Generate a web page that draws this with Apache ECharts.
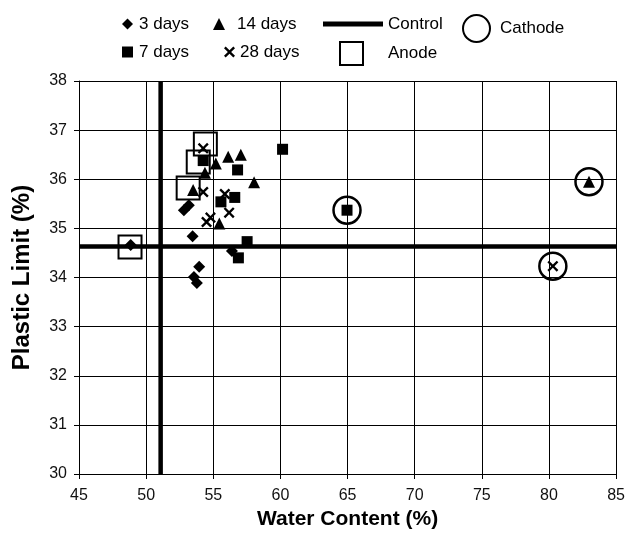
<!DOCTYPE html>
<html>
<head>
<meta charset="utf-8">
<script src="https://cdn.jsdelivr.net/npm/echarts@6/dist/echarts.min.js"></script>
<style>
  html, body { margin: 0; padding: 0; background: #fff; }
  #chart { width: 628px; height: 539px; }
</style>
</head>
<body>
<div id="chart"></div>
<script>
// Water content (%) vs plastic limit (%) for each curing period
const days3  = [[48.85, 34.66], [52.81, 35.37], [53.18, 35.47], [53.46, 34.84], [56.39, 34.54], [53.95, 34.22], [53.56, 34.01], [53.78, 33.89]];
const days7  = [[54.25, 36.38], [56.81, 36.19], [60.16, 36.61], [56.60, 35.63], [55.57, 35.54], [57.52, 34.73], [56.87, 34.40], [64.96, 35.37]];
const days14 = [[55.19, 36.32], [56.11, 36.46], [57.05, 36.50], [54.38, 36.13], [58.04, 35.94], [53.50, 35.78], [55.45, 35.10], [82.98, 35.95]];
const days28 = [[54.25, 36.63], [54.25, 35.74], [55.86, 35.70], [56.18, 35.32], [54.79, 35.22], [54.50, 35.13], [80.29, 34.23]];
// Samples taken next to the electrodes
const anode   = [[54.41, 36.72], [53.88, 36.35], [53.13, 35.82], [48.80, 34.62]];
const cathode = [[64.96, 35.37], [82.98, 35.95], [80.29, 34.23]];
// Untreated control values
const controlWater = 51.08;
const controlPL = 34.63;
// Axis ranges and tick steps
const xRange = [45, 85, 5];
const yRange = [30, 38, 1];

const FONT = "'Liberation Sans', Arial, sans-serif";
const crossPath = 'path://M0,1.5L1.5,0L5,3.5L8.5,0L10,1.5L6.5,5L10,8.5L8.5,10L5,6.5L1.5,10L0,8.5L3.5,5Z';

function legendItem(name, left, top, w, h, pad, extra) {
  return Object.assign({
    data: [name], left: left, top: top, padding: 0,
    itemWidth: w, itemHeight: h, selectedMode: false,
    textStyle: { fontFamily: FONT, fontSize: 17, color: '#000', lineHeight: 20, padding: [0, 0, 0, pad] }
  }, extra || {});
}

const solid = { color: '#000', opacity: 1 };
const hollow = { color: 'rgba(0,0,0,0)', borderColor: '#000', opacity: 1 };

const chart = echarts.init(document.getElementById('chart'), null, { renderer: 'canvas' });
chart.setOption({
  animation: false,
  backgroundColor: '#fff',
  grid: { left: 79, right: 11, top: 81, bottom: 65, containLabel: false },
  legend: [
    legendItem('3 days', 122, 14, 11, 11, 1),
    legendItem('14 days', 213, 14, 12, 12, 7),
    legendItem('Control', 323, 14, 60, 5, 0, { icon: 'rect' }),
    legendItem('Cathode', 462, 14, 27, 27, 5),
    legendItem('7 days', 122, 42, 11, 11, 1),
    legendItem('28 days', 224, 42, 11, 11, 0),
    legendItem('Anode', 339, 41, 23, 23, 20)
  ],
  xAxis: {
    type: 'value', min: xRange[0], max: xRange[1], interval: xRange[2],
    name: 'Water Content (%)', nameLocation: 'middle', nameGap: 30,
    nameTextStyle: { fontFamily: FONT, fontSize: 21, fontWeight: 'bold', color: '#000' },
    axisLine: { show: true, lineStyle: { color: '#000', width: 1 } },
    axisTick: { show: true, inside: false, length: 5, lineStyle: { color: '#000' } },
    axisLabel: { fontFamily: FONT, fontSize: 16, color: '#111', margin: 14 },
    splitLine: { show: true, lineStyle: { color: '#000', width: 1 } }
  },
  yAxis: {
    type: 'value', min: yRange[0], max: yRange[1], interval: yRange[2],
    name: 'Plastic Limit (%)', nameLocation: 'middle', nameGap: 45,
    nameTextStyle: { fontFamily: FONT, fontSize: 24, fontWeight: 'bold', color: '#000' },
    axisLine: { show: true, lineStyle: { color: '#000', width: 1 } },
    axisTick: { show: true, inside: false, length: 5, lineStyle: { color: '#000' } },
    axisLabel: { fontFamily: FONT, fontSize: 16, color: '#111', margin: 12 },
    splitLine: { show: true, lineStyle: { color: '#000', width: 1 } }
  },
  series: [
    {
      name: 'Control', type: 'line', symbol: 'none', z: 3,
      itemStyle: solid, lineStyle: { color: '#000', width: 4.5 },
      data: [[xRange[0], controlPL], [xRange[1], controlPL]]
    },
    {
      name: 'Control', type: 'line', symbol: 'none', z: 3,
      itemStyle: solid, lineStyle: { color: '#000', width: 4.5 },
      data: [[controlWater, yRange[0]], [controlWater, yRange[1]]]
    },
    {
      name: 'Anode', type: 'scatter', symbol: 'rect', symbolSize: 23, z: 4,
      itemStyle: Object.assign({ borderWidth: 2 }, hollow), data: anode
    },
    {
      name: 'Cathode', type: 'scatter', symbol: 'circle', symbolSize: 27, z: 4,
      itemStyle: Object.assign({ borderWidth: 2.5 }, hollow), data: cathode
    },
    {
      name: '3 days', type: 'scatter', symbol: 'diamond', symbolSize: 12, z: 5,
      itemStyle: solid, data: days3
    },
    {
      name: '7 days', type: 'scatter', symbol: 'rect', symbolSize: 11, z: 5,
      itemStyle: solid, data: days7
    },
    {
      name: '14 days', type: 'scatter', symbol: 'triangle', symbolSize: 12, z: 5,
      itemStyle: solid, data: days14
    },
    {
      name: '28 days', type: 'scatter', symbol: crossPath, symbolSize: 11, z: 5,
      itemStyle: solid, data: days28
    }
  ]
});
</script>
</body>
</html>
